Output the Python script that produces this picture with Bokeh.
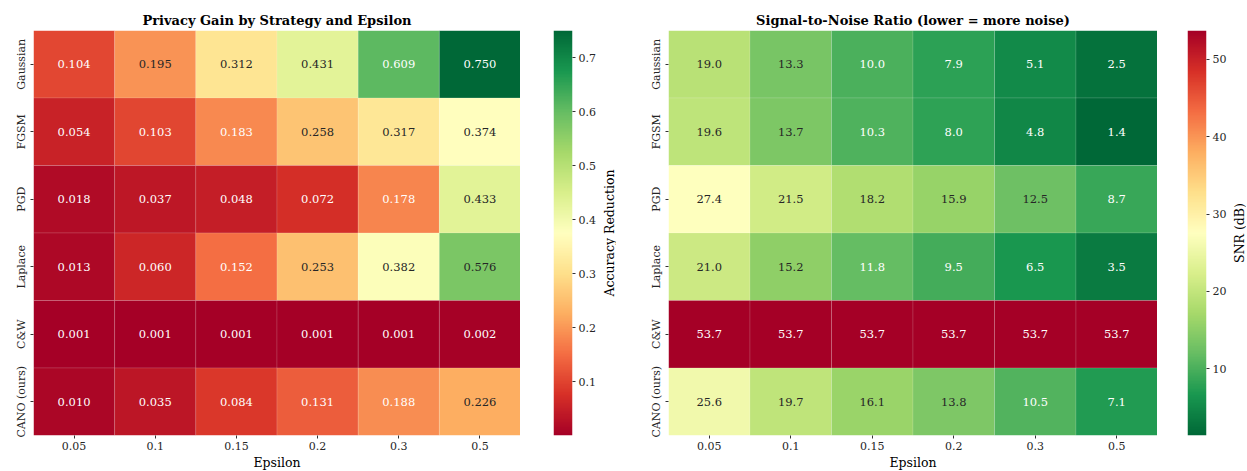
import math
import numpy as np
from bokeh.plotting import figure
from bokeh.models import (ColumnDataSource, LinearColorMapper, FixedTicker, FactorRange)
from bokeh.layouts import row
from bokeh.embed import file_html
from bokeh.resources import INLINE
from bokeh.core.properties import value

strategies = ["Gaussian", "FGSM", "PGD", "Laplace", "C&W", "CANO (ours)"]
epsilons = ["0.05", "0.1", "0.15", "0.2", "0.3", "0.5"]

privacy_gain = [
    [0.104, 0.195, 0.312, 0.431, 0.609, 0.750],
    [0.054, 0.103, 0.183, 0.258, 0.317, 0.374],
    [0.018, 0.037, 0.048, 0.072, 0.178, 0.433],
    [0.013, 0.060, 0.152, 0.253, 0.382, 0.576],
    [0.001, 0.001, 0.001, 0.001, 0.001, 0.002],
    [0.010, 0.035, 0.084, 0.131, 0.188, 0.226],
]
snr_db = [
    [19.0, 13.3, 10.0, 7.9, 5.1, 2.5],
    [19.6, 13.7, 10.3, 8.0, 4.8, 1.4],
    [27.4, 21.5, 18.2, 15.9, 12.5, 8.7],
    [21.0, 15.2, 11.8, 9.5, 6.5, 3.5],
    [53.7, 53.7, 53.7, 53.7, 53.7, 53.7],
    [25.6, 19.7, 16.1, 13.8, 10.5, 7.1],
]
gain_ticks = [0.1, 0.2, 0.3, 0.4, 0.5, 0.6, 0.7]
snr_ticks = [10, 20, 30, 40, 50]

FONT = "DejaVu Serif"
RDYLGN = ["#a50026", "#d73027", "#f46d43", "#fdae61", "#fee08b", "#ffffbf",
          "#d9ef8b", "#a6d96a", "#66bd63", "#1a9850", "#006837"]

TOP = 30
FRAME_H = 405
BOTTOM = 36


def hex2rgb(h):
    return [int(h[i:i + 2], 16) / 255.0 for i in (1, 3, 5)]


CTRL = [hex2rgb(c) for c in RDYLGN]


def cmap(t):
    t = min(max(t, 0.0), 1.0)
    pos = t * 10
    i = min(int(pos), 9)
    f = pos - i
    a, b = CTRL[i], CTRL[i + 1]
    return [a[k] + (b[k] - a[k]) * f for k in range(3)]


def to_hex(rgb):
    return "#%02x%02x%02x" % tuple(int(round(c * 255)) for c in rgb)


def lum(rgb):
    lin = [c / 12.92 if c <= 0.03928 else ((c + 0.055) / 1.055) ** 2.4 for c in rgb]
    return 0.2126 * lin[0] + 0.7152 * lin[1] + 0.0722 * lin[2]


def make_panel(data, title, cbar_label, ticks, reverse, fmt,
               left_border, frame_w, cb_gap, cb_right, lab_w):
    flat = [v for r in data for v in r]
    vmin, vmax = min(flat), max(flat)
    xs, ys, fills, texts, tcols = [], [], [], [], []
    for si, s in enumerate(strategies):
        for ei, e in enumerate(epsilons):
            v = data[si][ei]
            t = (v - vmin) / (vmax - vmin)
            if reverse:
                t = 1 - t
            rgb = cmap(t)
            xs.append(e)
            ys.append(s)
            fills.append(to_hex(rgb))
            texts.append(fmt.format(v))
            tcols.append("#262626" if lum(rgb) > 0.408 else "#ffffff")
    src = ColumnDataSource(dict(x=xs, y=ys, fill=fills, text=texts, tcol=tcols))

    p = figure(x_range=FactorRange(*epsilons), y_range=FactorRange(*reversed(strategies)),
               frame_width=frame_w, frame_height=FRAME_H, output_backend="svg",
               toolbar_location=None, title=title,
               min_border_left=left_border, min_border_top=TOP, min_border_bottom=BOTTOM,
               min_border_right=0)
    p.rect(x="x", y="y", width=1, height=1, source=src, fill_color="fill",
           line_color="#ffffff", line_alpha=0.25, line_width=0.5)
    p.text(x="x", y="y", text="text", source=src, text_color="tcol",
           text_align="center", text_baseline="middle",
           text_font=value(FONT), text_font_size="11.5px")

    p.title.align = "center"
    p.title.text_font = FONT
    p.title.text_font_size = "13px"
    p.title.text_font_style = "bold"
    p.title.text_color = "#000000"
    p.title.offset = 0
    p.title.standoff = 6

    p.grid.visible = False
    p.outline_line_color = None
    for ax in (p.xaxis[0], p.yaxis[0]):
        ax.axis_line_color = None
        ax.major_tick_in = 0
        ax.major_tick_out = 3
        ax.major_tick_line_color = "#333333"
        ax.major_label_text_font = FONT
        ax.major_label_text_font_size = "11px"
        ax.major_label_text_color = "#262626"
        ax.major_label_standoff = 3
    p.yaxis.major_label_orientation = "vertical"
    p.xaxis.axis_label = "Epsilon"
    p.xaxis.axis_label_text_font = FONT
    p.xaxis.axis_label_text_font_size = "12.5px"
    p.xaxis.axis_label_text_font_style = "normal"
    p.xaxis.axis_label_text_color = "#000000"
    p.xaxis.axis_label_standoff = 2

    # colour bar as its own small figure
    pal = []
    for k in range(256):
        t = k / 255.0
        pal.append(to_hex(cmap(1 - t if reverse else t)))
    mapper = LinearColorMapper(palette=pal, low=vmin, high=vmax)
    cb = figure(x_range=(0, 1), y_range=(vmin, vmax), frame_width=19, frame_height=FRAME_H,
                output_backend="svg", toolbar_location=None, x_axis_type=None,
                y_axis_location="right",
                min_border_left=cb_gap, min_border_right=cb_right,
                min_border_top=TOP, min_border_bottom=BOTTOM)
    grad = np.linspace(vmin, vmax, 512).reshape(512, 1)
    cb.image(image=[grad], x=0, y=vmin, dw=1, dh=vmax - vmin, color_mapper=mapper)
    cb.grid.visible = False
    cb.outline_line_color = None
    ya = cb.yaxis[0]
    ya.ticker = FixedTicker(ticks=ticks)
    ya.axis_line_color = None
    ya.minor_tick_line_color = None
    ya.major_tick_in = 0
    ya.major_tick_out = 3
    ya.major_tick_line_color = "#333333"
    ya.major_label_text_font = FONT
    ya.major_label_text_font_size = "11px"
    ya.major_label_text_color = "#262626"
    ya.major_label_standoff = 3

    # colour bar label
    lf = figure(x_range=(0, 1), y_range=(0, 1), frame_width=lab_w, frame_height=FRAME_H,
                output_backend="svg", toolbar_location=None, x_axis_type=None,
                y_axis_type=None, min_border_left=0, min_border_right=0,
                min_border_top=TOP, min_border_bottom=BOTTOM)
    lf.outline_line_color = None
    lf.grid.visible = False
    lf.text(x=[0.5], y=[0.5], text=[cbar_label], angle=math.pi / 2,
            text_align="center", text_baseline="middle", text_color="#000000",
            text_font=value(FONT), text_font_size="12.5px")
    return [p, cb, lf]


left = make_panel(privacy_gain, "Privacy Gain by Strategy and Epsilon", "Accuracy Reduction",
                  gain_ticks, False, "{:.3f}", 33, 487, 33, 30, 14)
right = make_panel(snr_db, "Signal-to-Noise Ratio (lower = more noise)", "SNR (dB)",
                   snr_ticks, True, "{:.1f}", 52, 489, 30, 26, 14)

layout = row(*left, *right, spacing=0)
open("out.html", "w").write(file_html(layout, INLINE))
